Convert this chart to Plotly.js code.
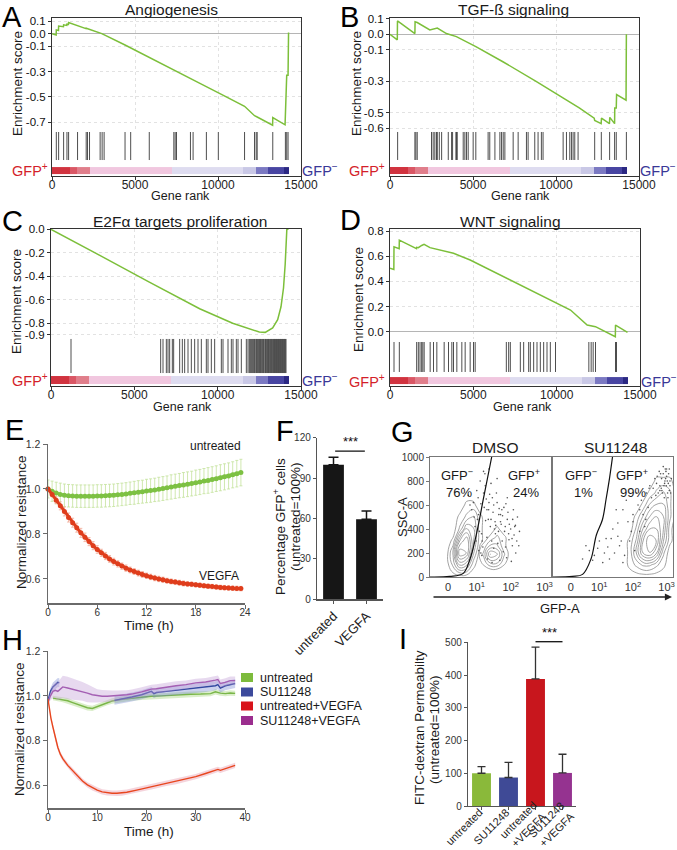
<!DOCTYPE html>
<html><head><meta charset="utf-8">
<script src="https://cdn.plot.ly/plotly-3.0.1.min.js"></script>
<style>html,body{margin:0;padding:0;background:#fff}#chart{width:677px;height:850px}</style>
</head><body><div id="chart"></div>
<script>
// ================= DATA =================
// GSEA common
const gseaTickRanks = [0, 5000, 10000, 15000];
const colorBarEdges = [0, 1100, 1500, 2300, 7200, 11500, 12300, 13000, 14000, 14250];
const colorBarLevel = [8, 7, 6, 5, 4, 3, 2, 1, 0];
// A Angiogenesis
const angioRank = [0,250,260,390,400,690,700,890,900,990,1000,1530,1540,2050,2060,2260,3000,4400,5860,7500,9000,10500,11600,12200,12360,13290,13300,14040,14060,14140,14220,14250];
const angioES   = [0,-0.01,0.03,0.025,0.06,0.055,0.07,0.065,0.075,0.073,0.088,0.062,0.066,0.04,0.043,0.035,0.0,-0.09,-0.19,-0.3,-0.4,-0.5,-0.575,-0.65,-0.66,-0.725,-0.665,-0.722,-0.6,-0.33,-0.33,0.01];
const angioHits = [260,400,700,900,1000,1540,2060,2140,2260,2900,3020,3140,4400,4740,5860,7340,7420,7500,8340,8500,9300,10020,11600,12200,12300,12360,13300,14060,14140,14220];
// B TGF-beta
const tgfRank = [0,440,450,1500,1510,1640,2400,2500,2800,2850,3400,4000,5200,6800,8800,10800,11400,12300,12330,12720,12740,13220,13240,13530,13540,13630,13650,14220,14240];
const tgfES    = [0,-0.035,0.085,0.005,0.08,0.075,0.028,0.03,0.035,0.04,0.005,-0.015,-0.08,-0.175,-0.30,-0.43,-0.47,-0.535,-0.55,-0.57,-0.535,-0.57,-0.53,-0.57,-0.47,-0.47,-0.385,-0.42,0.0];
const tgfHits = [460,1500,1560,1640,2500,2600,2700,2800,2850,2970,3110,3510,3710,3770,3970,4010,4050,4410,4510,4610,4710,5010,5170,5910,6010,6320,6620,6720,6820,6920,7420,7720,8220,8320,8720,8920,9120,9220,10430,10630,10830,10930,11030,11130,11330,12330,12730,13230,13530,13630,14240];
// C E2F targets
const e2fRank = [0,1190,1200,2900,5900,8920,10900,11900,12500,12850,13300,13600,13800,13950,14050,14150,14250];
const e2fES   = [0,-0.09,-0.087,-0.22,-0.45,-0.677,-0.8,-0.85,-0.875,-0.878,-0.84,-0.77,-0.66,-0.5,-0.3,0.0,0.0];
const e2fHits = [1200,6580,6720,6920,7020,7120,7280,7360,7720,7880,8020,8220,8420,8620,8820,9020,9320,9420,9620,9820,10220,10320,10620,10820,10920,11120,11220,11420,11720,11820,11900,11960,12020,12080,12140,12200,12240,12300,12340,12400,12440,12500,12540,12580,12640,12700,12740,12780,12840,12880,12920,12980,13020,13060,13100,13160,13200,13240,13300,13340,13380,13420,13460,13500,13540,13580,13620,13660,13700,13740,13780,13820,13860,13900,13940,13980,14020,14060,14100];
// D WNT
const wntRank = [0,230,240,550,560,1590,1600,1700,1900,1965,2045,2400,3250,3810,4810,6820,8820,10830,11830,12330,13520,13530,14250];
const wntES   = [0.505,0.495,0.675,0.66,0.728,0.66,0.67,0.668,0.685,0.69,0.694,0.668,0.64,0.623,0.57,0.437,0.305,0.172,0.053,0.04,-0.04,0.053,-0.005];
const wntHits = [240,560,1600,1700,1800,1900,1970,2050,2410,2610,2810,3250,3510,3710,3810,4010,4310,4510,4810,5010,5110,6980,7120,7220,7820,8020,8320,8420,8620,8820,9020,9220,9420,9620,9930,11930,12070,12190,12330,13530,13590];

// E impedance (24 h)
const eTime = [0,0.5,1,1.5,2,2.5,3,3.5,4,4.5,5,5.5,6,6.5,7,7.5,8,8.5,9,9.5,10,10.5,11,11.5,12,12.5,13,13.5,14,14.5,15,15.5,16,16.5,17,17.5,18,18.5,19,19.5,20,20.5,21,21.5,22,22.5,23,23.5];
const eUntreated = [1.000,0.99,0.982,0.976,0.972,0.97,0.969,0.968,0.968,0.968,0.968,0.968,0.969,0.969,0.97,0.971,0.972,0.974,0.976,0.978,0.981,0.983,0.986,0.988,0.991,0.993,0.996,0.999,1.002,1.005,1.009,1.012,1.015,1.018,1.021,1.024,1.028,1.031,1.035,1.038,1.042,1.046,1.05,1.054,1.058,1.063,1.068,1.073];
const eUntreatedErr = [0.04,0.045,0.048,0.05,0.05,0.05,0.05,0.05,0.05,0.05,0.05,0.05,0.05,0.05,0.05,0.05,0.05,0.05,0.05,0.05,0.05,0.051,0.051,0.051,0.052,0.052,0.052,0.053,0.053,0.053,0.054,0.054,0.054,0.055,0.055,0.055,0.056,0.056,0.056,0.057,0.057,0.057,0.058,0.058,0.058,0.058,0.059,0.059];
const eVegfa = [1.0,0.975,0.95,0.925,0.9,0.873,0.85,0.828,0.805,0.785,0.766,0.748,0.731,0.716,0.702,0.689,0.677,0.667,0.657,0.648,0.64,0.633,0.626,0.62,0.614,0.609,0.604,0.6,0.596,0.592,0.589,0.586,0.583,0.58,0.578,0.576,0.574,0.572,0.57,0.568,0.566,0.564,0.562,0.561,0.56,0.559,0.558,0.557];
const eVegfaErr = [0.005,0.01,0.015,0.018,0.02,0.02,0.02,0.02,0.02,0.019,0.018,0.018,0.017,0.016,0.016,0.015,0.015,0.014,0.014,0.014,0.013,0.013,0.013,0.013,0.012,0.012,0.012,0.012,0.012,0.011,0.011,0.011,0.011,0.011,0.01,0.01,0.01,0.01,0.01,0.01,0.01,0.01,0.01,0.01,0.01,0.01,0.01,0.01];

// F percentage GFP+
const fCats = ['untreated', 'VEGFA'];
const fVals = [100, 59.5];
const fErr  = [5.4, 6.1];

// G flow cytometry (x in decades)
const gTickPos = [0.15, 1, 2, 3];
const gTickText = ['0', '10<sup>1</sup>', '10<sup>2</sup>', '10<sup>3</sup>'];
const gNegX = [0.1,0.3,0.5,0.7,0.9,1.1,1.3];
const gNegY = [0,100,200,300,400,500,600,700];
const gNegZ = [
 [0,0,0,0,0,0,0],
 [0,2,5,4,1,0,0],
 [0,3,9,8,3,0,0],
 [0,1,6,8,4,1,0],
 [0,0,2,5,4,1,0],
 [0,0,1,2,3,1,0],
 [0,0,0,1,1,0,0],
 [0,0,0,0,0,0,0]];
const gPosX = [1.0,1.2,1.4,1.6,1.8,2.0,2.2];
const gPosY = [50,120,190,260,330,400,470];
const gPosZ = [
 [0,0,0,0,0,0,0],
 [0,1,3,3,1,0,0],
 [0,2,6,5,2,0,0],
 [0,1,3,3,1,0,0],
 [0,0,1,2,1,0,0],
 [0,0,0,1,0,0,0],
 [0,0,0,0,0,0,0]];
const sPosX = [1.7,1.9,2.1,2.3,2.5,2.7,2.9,3.1,3.3];
const sPosY = [0,100,200,300,400,500,600,700,800,900];
const sPosZ = [
 [0,0,0,0,0,0,0,0,0],
 [0,1,2,3,3,2,1,0,0],
 [0,1,4,7,8,6,2,0,0],
 [0,1,3,7,9,8,4,1,0],
 [0,0,2,5,7,7,5,1,0],
 [0,0,1,3,5,6,5,2,0],
 [0,0,0,1,3,4,4,2,0],
 [0,0,0,0,1,2,3,2,0],
 [0,0,0,0,0,1,1,1,0],
 [0,0,0,0,0,0,0,0,0]];
const gLeftDotsX = [0.95,1.05,1.12,1.2,1.28,1.35,1.42,1.5,1.58,1.65,1.72,1.8,1.9,2.0,2.1,0.98,1.08,1.18,1.3,1.4,1.55,1.62,1.75,1.85,1.95,2.05,2.15,1.0,1.1,1.25,1.38,1.48,1.6,1.7,1.82,1.92,1.15,1.32,1.45,1.68,1.88,2.02,0.9,1.22,1.52,1.78,2.12,0.6,0.75,0.85,
  1.02,1.14,1.26,1.36,1.46,1.56,1.66,1.76,1.86,1.96,2.06,2.18,2.26,1.06,1.16,1.34,1.44,1.54,1.64,1.74,1.84,1.94,2.04,2.14,2.24,1.24,1.42,1.6,1.9,2.08,1.12,1.3,1.5,1.7,2.2,0.8,0.92,1.04,1.2,1.36];
const gLeftDotsY = [420,520,610,700,650,560,480,600,700,520,440,580,480,400,350,300,380,250,330,420,360,280,300,250,310,260,200,720,800,760,690,540,620,460,380,540,180,150,120,140,160,130,620,580,400,210,420,740,680,560,
  480,360,470,620,660,430,570,510,610,440,480,300,380,220,300,480,300,460,380,560,420,360,320,430,260,860,780,820,660,560,200,560,240,520,500,600,500,660,880,900];
const gRightDotsX = [2.85,2.9,2.95,3.0,3.05,3.1,2.8,2.88,2.98,3.08,2.7,2.75,2.92,3.02,3.12,2.6,2.65,2.82,2.96,3.04,1.3,1.45,1.6,1.75,1.9,2.05,2.2,2.35,1.4,1.55,1.7,1.85,2.0,2.15,1.25,1.5,1.8,2.1,2.3,2.45,0.5,0.7,0.85,1.0,1.1,
  2.84,2.94,3.0,3.06,3.14,2.78,2.9,2.99,3.1,2.72,2.86,2.97,3.08,2.68,2.8,2.93,3.03,1.55,1.65,1.95,2.25,2.4,2.5,2.55,1.35,1.7,2.0,2.2,2.38,2.48,0.6,0.8,1.15,1.2,0.95];
const gRightDotsY = [820,860,800,840,780,760,760,700,880,720,780,700,760,800,700,740,820,860,900,660,150,200,260,180,300,220,380,420,400,340,120,460,520,600,250,560,640,700,520,580,150,220,180,300,120,
  740,780,900,860,820,880,920,760,800,840,720,820,900,680,720,660,700,450,300,380,640,700,760,660,320,560,460,560,480,740,260,140,200,320,240];
const gateLeftX = [-0.38,0.2,0.6,0.8,0.95,1.08,1.19,1.3,1.44];
const gateLeftY = [0,5,30,150,308,480,644,800,1000];
const gateRightX = [-0.4,0.2,0.5,0.75,0.91,1.09,1.2,1.3,1.39];
const gateRightY = [0,5,22,150,350,477,650,820,1000];

// H impedance (40 h)
const hRedT = [0,0.3,0.6,1,1.5,2,2.5,3,4,5,6,7,8,9,10,11,12,13,14,15,16,18,20,21,22,24,26,28,30,32,34,34.5,35,36,38];
const hRedV = [0.985,0.94,0.9,0.86,0.81,0.77,0.74,0.72,0.69,0.665,0.64,0.62,0.603,0.59,0.58,0.572,0.568,0.566,0.566,0.567,0.57,0.58,0.59,0.595,0.598,0.61,0.618,0.628,0.64,0.654,0.668,0.672,0.668,0.676,0.69];
const hRedE = [0.005,0.008,0.01,0.012,0.012,0.012,0.012,0.012,0.012,0.012,0.012,0.012,0.012,0.012,0.012,0.012,0.012,0.012,0.012,0.012,0.012,0.012,0.012,0.012,0.012,0.012,0.012,0.012,0.012,0.012,0.012,0.012,0.012,0.012,0.012];
const hGreenT = [1,2,3,4,5,6,7,8,9,10,11,12,13,15,17,19,21,23,25,27,29,31,33,34,35,36,37,38];
const hGreenV = [0.99,0.986,0.983,0.978,0.97,0.962,0.954,0.947,0.944,0.952,0.962,0.97,0.977,0.985,0.99,0.994,0.998,1.0,1.003,1.005,1.007,1.008,1.01,1.018,1.012,1.01,1.013,1.011];
const hGreenE = [0.01,0.01,0.012,0.012,0.012,0.012,0.012,0.012,0.012,0.012,0.012,0.012,0.012,0.012,0.012,0.012,0.012,0.012,0.012,0.012,0.012,0.012,0.012,0.012,0.012,0.012,0.012,0.012];
const hBlueT1 = [0,0.5,1,1.5,2,2.3];
const hBlueV1 = [0.98,1.02,1.04,1.05,1.06,1.058];
const hBlueE1 = [0.01,0.015,0.02,0.02,0.02,0.02];
const hBlueT2 = [13.5,15,17,19,20,21,21.5,22,24,26,28,30,32,33,34,34.5,35,36,37,38];
const hBlueV2 = [0.98,0.985,0.995,1.005,1.012,1.02,1.01,1.015,1.02,1.025,1.028,1.033,1.037,1.04,1.045,1.05,1.035,1.045,1.05,1.055];
const hBlueE2 = [0.02,0.02,0.02,0.02,0.02,0.02,0.02,0.02,0.02,0.02,0.02,0.02,0.02,0.02,0.02,0.02,0.02,0.02,0.02,0.02];
const hPurpleT = [0,0.5,1,1.5,2,2.5,3,4,5,6,7,8,9,10,11,12,13,14,15,16,17,18,19,20,21,22,24,26,28,30,32,33,34,34.5,35,36,37,38];
const hPurpleV = [0.97,1.0,1.02,1.025,1.02,1.03,1.04,1.035,1.03,1.025,1.02,1.012,1.005,1.0,0.998,0.998,0.999,1.0,1.002,1.005,1.008,1.012,1.018,1.024,1.03,1.032,1.04,1.045,1.05,1.058,1.062,1.065,1.07,1.073,1.055,1.06,1.068,1.068];
const hPurpleE = [0.01,0.02,0.03,0.035,0.04,0.045,0.05,0.05,0.048,0.045,0.042,0.04,0.035,0.03,0.028,0.026,0.025,0.024,0.022,0.02,0.02,0.02,0.02,0.02,0.02,0.02,0.02,0.02,0.018,0.018,0.018,0.018,0.018,0.018,0.018,0.018,0.018,0.018];
const hLegend = ['untreated', 'SU11248', 'untreated+VEGFA', 'SU11248+VEGFA'];

// I FITC-dextran permeability
const iCats = ['untreated', 'SU11248', 'untreated<br>+VEGFA', 'SU11248<br>+VEGFA'];
const iVals = [100, 87, 388, 101];
const iErr  = [20, 46, 97, 57];

// ================= BUILD =================
const W = 677, H = 850;
const FONT = 'Liberation Sans, Arial, Helvetica, sans-serif';
const PX = x => x / W, PY = y => 1 - y / H;
const dx = (a, b) => [a / W, b / W];
const dy = (top, bot) => [1 - bot / H, 1 - top / H];
const sfx = n => (n === 1 ? '' : String(n));
const zeros = a => a.map(() => 0);

const traces = [];
const layout = {
  width: W, height: H, margin: {l: 0, r: 0, t: 0, b: 0},
  paper_bgcolor: '#fff', plot_bgcolor: '#fff', showlegend: false,
  font: {family: FONT, color: '#222', size: 11},
  annotations: [], shapes: []
};
function ann(text, x, y, size, opt) {
  layout.annotations.push(Object.assign({
    text: text, x: PX(x), y: PY(y), xref: 'paper', yref: 'paper', showarrow: false,
    xanchor: 'center', yanchor: 'middle', font: {family: FONT, size: size, color: '#1a1a1a'}
  }, opt || {}));
}

// ---- GSEA panels ----
const cbColors = ['#2b2883', '#4845a2', '#7b79c2', '#c9c8e6', '#dedcf0', '#f1c7df', '#e07e8b', '#da5765', '#d1333f'];
function gsea(n, c) {
  const xh = 'x' + sfx(n), yh = 'y' + sfx(n), xe = 'x' + sfx(n + 1), ye = 'y' + sfx(n + 1);
  traces.push({type: 'heatmap', x: colorBarEdges, y: c.barY, z: [colorBarLevel], xaxis: xh, yaxis: yh,
    colorscale: cbColors.map((col, i) => [i / (cbColors.length - 1), col]), zmin: 0, zmax: 8,
    showscale: false, hoverinfo: 'skip'});
  const hx = [], hy = [];
  c.hits.forEach(h => { hx.push(h, h, null); hy.push(c.hitY[0], c.hitY[1], null); });
  traces.push({type: 'scatter', mode: 'lines', x: hx, y: hy, xaxis: xh, yaxis: yh,
    line: {color: '#3a3a3a', width: 0.9}, hoverinfo: 'skip'});
  traces.push({type: 'scatter', mode: 'lines', x: c.rank, y: c.es, xaxis: xe, yaxis: ye,
    line: {color: '#7cbf3a', width: 1.5}, cliponaxis: false, hoverinfo: 'skip'});
  layout['xaxis' + sfx(n)] = {domain: dx(c.l, c.r), anchor: yh, range: [0, 15000],
    tickvals: gseaTickRanks, ticktext: gseaTickRanks.map(String), ticks: 'outside', ticklen: 3,
    tickcolor: '#333', showline: true, linecolor: '#333', linewidth: 1, showgrid: false, zeroline: false,
    ticklabelstandoff: -5, tickfont: {size: 12, color: '#222'}};
  layout['yaxis' + sfx(n)] = {domain: dy(c.esBot, c.bot), anchor: xh, range: [0, 1],
    showline: true, mirror: true, linecolor: '#333', ticks: '', showticklabels: false,
    showgrid: false, zeroline: false};
  layout['xaxis' + sfx(n + 1)] = {domain: dx(c.l, c.r), anchor: ye, range: [0, 15000], side: 'top',
    showline: true, linecolor: '#333', ticks: '', showticklabels: false, showgrid: true,
    gridcolor: '#e2e2e2', griddash: 'dot', tickvals: [5000, 10000], zeroline: false};
  layout['yaxis' + sfx(n + 1)] = {domain: dy(c.top, c.esBot), anchor: xe, range: c.range,
    tickvals: c.ticks, ticktext: c.ticks.map(v => (v < 0 ? '-' : '') + Math.abs(v).toFixed(1)), ticks: 'outside', ticklen: 3,
    tickcolor: '#333', showline: true, mirror: true, linecolor: '#333', showgrid: true,
    gridcolor: '#e2e2e2', griddash: 'dot', zeroline: true, zerolinecolor: '#b5b5b5', zerolinewidth: 1,
    tickfont: {size: 11.5, color: '#111'}};
}
gsea(1, {l: 52, r: 301, top: 18, esBot: 129, bot: 176, range: [-0.755, 0.124],
  ticks: [0.1, 0, -0.1, -0.3, -0.5, -0.7], rank: angioRank, es: angioES, hits: angioHits,
  hitY: [0.34, 0.936], barY: [0.043, 0.19]});
gsea(3, {l: 390, r: 639, top: 18, esBot: 131, bot: 176, range: [-0.617, 0.104],
  ticks: [0.1, 0, -0.1, -0.3, -0.5, -0.6], rank: tgfRank, es: tgfES, hits: tgfHits,
  hitY: [0.356, 0.978], barY: [0.044, 0.2]});
gsea(5, {l: 51, r: 301, top: 229, esBot: 338, bot: 386, range: [-0.926, 0.003],
  ticks: [0, -0.2, -0.4, -0.6, -0.8, -0.9], rank: e2fRank, es: e2fES, hits: e2fHits,
  hitY: [0.27, 0.98], barY: [0.042, 0.208]});
gsea(7, {l: 390, r: 640, top: 229, esBot: 339, bot: 386, range: [-0.058, 0.816],
  ticks: [0.8, 0.6, 0.4, 0.2, 0], rank: wntRank, es: wntES, hits: wntHits,
  hitY: [0.298, 0.936], barY: [0.043, 0.19]});

// ---- E ----
traces.push({type: 'scatter', mode: 'markers', x: eTime, y: eUntreated, xaxis: 'x9', yaxis: 'y9',
  marker: {color: 'rgba(0,0,0,0)'}, cliponaxis: false, hoverinfo: 'skip',
  error_y: {type: 'data', array: eUntreatedErr, color: '#c4e29c', thickness: 0.8, width: 1.5}});
traces.push({type: 'scatter', mode: 'lines+markers', x: eTime, y: eUntreated, xaxis: 'x9', yaxis: 'y9',
  marker: {color: '#7dc143', size: 5}, line: {color: '#7dc143', width: 3}, cliponaxis: false, hoverinfo: 'skip'});
traces.push({type: 'scatter', mode: 'markers', x: eTime, y: eVegfa, xaxis: 'x9', yaxis: 'y9',
  marker: {color: 'rgba(0,0,0,0)'}, cliponaxis: false, hoverinfo: 'skip',
  error_y: {type: 'data', array: eVegfaErr, color: '#f3a995', thickness: 0.8, width: 1.5}});
traces.push({type: 'scatter', mode: 'lines+markers', x: eTime, y: eVegfa, xaxis: 'x9', yaxis: 'y9',
  marker: {color: '#df3d1c', size: 5}, line: {color: '#df3d1c', width: 3}, cliponaxis: false, hoverinfo: 'skip'});
const lineAx = {showline: true, linecolor: '#6a6a6a', linewidth: 1.5, ticks: 'outside', ticklen: 4,
  tickcolor: '#6a6a6a', showgrid: false, zeroline: false, tickfont: {size: 10.5, color: '#333'}};
layout.xaxis9 = Object.assign({}, lineAx, {domain: dx(48, 245), anchor: 'y9', range: [0, 24], tickvals: [0, 6, 12, 18, 24],
  ticklabelstandoff: -5, tickfont: {size: 10, color: '#333'}});
layout.yaxis9 = Object.assign({}, lineAx, {domain: dy(444, 603), anchor: 'x9', range: [0.493, 1.2],
  tickvals: [0.6, 0.8, 1.0, 1.2], ticktext: ['0.6', '0.8', '1.0', '1.2']});

// ---- F ----
traces.push({type: 'bar', x: fCats, y: fVals, xaxis: 'x10', yaxis: 'y10', width: 0.63,
  marker: {color: '#161616'},
  error_y: {type: 'data', symmetric: false, array: fErr, arrayminus: zeros(fErr), color: '#161616', thickness: 1.5, width: 5}});
layout.xaxis10 = {domain: dx(317, 383), anchor: 'y10', type: 'category', tickangle: -45, showline: true,
  linecolor: '#555', linewidth: 1.2, ticks: 'outside', ticklen: 3, tickcolor: '#555', tickfont: {size: 13, color: '#222'}};
layout.yaxis10 = {domain: dy(437.7, 599.3), anchor: 'x10', range: [0, 120], tickvals: [0, 30, 60, 90, 120],
  showline: true, linecolor: '#555', linewidth: 1.2, ticks: 'outside', ticklen: 3, tickcolor: '#555',
  showgrid: false, zeroline: false, tickfont: {size: 10, color: '#333'}};
layout.shapes.push({type: 'line', xref: 'x10', yref: 'y10', x0: 0.05, x1: 0.95, y0: 110, y1: 110, line: {color: '#111', width: 1.3}});
layout.annotations.push({text: '***', xref: 'x10', yref: 'y10', x: 0.5, y: 110, yanchor: 'bottom', showarrow: false, font: {family: FONT, size: 13, color: '#111'}});

// ---- G ----
function flow(nx, pops, dotsX, dotsY, gx, gy) {
  const xa = 'x' + nx, ya = 'y' + nx;
  const cont = (x, y, z) => ({type: 'contour', x: x, y: y, z: z, xaxis: xa, yaxis: ya, showscale: false,
    contours: {coloring: 'lines', start: 0.7, end: 9.5, size: 1.05},
    colorscale: [[0, '#8c8c8c'], [1, '#8c8c8c']], line: {width: 0.8, smoothing: 1.3}, hoverinfo: 'skip'});
  pops.forEach(p => traces.push(cont(p[0], p[1], p[2])));
  traces.push({type: 'scatter', mode: 'markers', x: dotsX, y: dotsY, xaxis: xa, yaxis: ya,
    marker: {color: '#555', size: 1.6}, hoverinfo: 'skip'});
  traces.push({type: 'scatter', mode: 'lines', x: gx, y: gy, xaxis: xa, yaxis: ya,
    line: {color: '#111', width: 1.2, shape: 'spline'}, hoverinfo: 'skip'});
}
flow(11, [[gNegX, gNegY, gNegZ], [gPosX, gPosY, gPosZ]], gLeftDotsX, gLeftDotsY, gateLeftX, gateLeftY);
flow(12, [[sPosX, sPosY, sPosZ]], gRightDotsX, gRightDotsY, gateRightX, gateRightY);
const flowX = {range: [-0.38, 3.19], tickvals: gTickPos, ticktext: gTickText, showline: true, mirror: true,
  linecolor: '#777', linewidth: 1, ticks: '', showgrid: false, zeroline: false, tickfont: {size: 11, color: '#333'}};
layout.xaxis11 = Object.assign({}, flowX, {domain: dx(430, 551), anchor: 'y11'});
layout.xaxis12 = Object.assign({}, flowX, {domain: dx(553, 673), anchor: 'y12'});
layout.yaxis11 = {domain: dy(457, 577), anchor: 'x11', range: [0, 1000], tickvals: [0, 200, 400, 600, 800, 1000],
  showline: true, mirror: true, linecolor: '#777', ticks: 'outside', ticklen: 3, tickcolor: '#777',
  showgrid: false, zeroline: false, tickfont: {size: 10, color: '#333'}};
layout.yaxis12 = {domain: dy(457, 577), anchor: 'x12', range: [0, 1000], showline: true, mirror: true,
  linecolor: '#777', ticks: '', showticklabels: false, showgrid: false, zeroline: false};
layout.annotations.push({x: PX(672), y: PY(597), xref: 'paper', yref: 'paper', ax: -240, ay: 0, text: '',
  showarrow: true, arrowhead: 2, arrowsize: 1.1, arrowwidth: 1.3, arrowcolor: '#222'});

// ---- H ----
function band(t, v, e, fill) {
  const up = v.map((y, i) => y + e[i]), lo = v.map((y, i) => y - e[i]);
  traces.push({type: 'scatter', mode: 'lines', x: t.concat(t.slice().reverse()), y: up.concat(lo.reverse()),
    fill: 'toself', fillcolor: fill, line: {width: 0}, xaxis: 'x13', yaxis: 'y13', hoverinfo: 'skip'});
}
function hline(t, v, col) {
  traces.push({type: 'scatter', mode: 'lines', x: t, y: v, xaxis: 'x13', yaxis: 'y13', line: {color: col, width: 1.4}, hoverinfo: 'skip'});
}
band(hGreenT, hGreenV, hGreenE, 'rgba(150,205,100,0.35)'); hline(hGreenT, hGreenV, '#7ab648');
band(hBlueT1, hBlueV1, hBlueE1, 'rgba(110,125,205,0.35)'); hline(hBlueT1, hBlueV1, '#3347a0');
band(hBlueT2, hBlueV2, hBlueE2, 'rgba(110,125,205,0.35)'); hline(hBlueT2, hBlueV2, '#3347a0');
band(hPurpleT, hPurpleV, hPurpleE, 'rgba(195,160,215,0.4)'); hline(hPurpleT, hPurpleV, '#a45fb3');
band(hRedT, hRedV, hRedE, 'rgba(235,170,185,0.5)'); hline(hRedT, hRedV, '#e8461e');
layout.xaxis13 = Object.assign({}, lineAx, {domain: dx(48, 245), anchor: 'y13', range: [0, 40], tickvals: [0, 10, 20, 30, 40],
  ticklabelstandoff: -5, tickfont: {size: 10, color: '#333'}});
layout.yaxis13 = Object.assign({}, lineAx, {domain: dy(651, 808), anchor: 'x13', range: [0.5, 1.2],
  tickvals: [0.6, 0.8, 1.0, 1.2], ticktext: ['0.6', '0.8', '1.0', '1.2']});
const legCols = ['#7dbb3c', '#3c4a9c', '#d8131b', '#9b2d8e'];
const legRows = [677.5, 692, 706, 720.5];
hLegend.forEach((name, i) => {
  layout.shapes.push({type: 'rect', xref: 'paper', yref: 'paper', x0: PX(241), x1: PX(253),
    y0: PY(legRows[i] + 4.5), y1: PY(legRows[i] - 4.5), fillcolor: legCols[i], line: {width: 0}});
  ann(name, 258, legRows[i], 12.5, {xanchor: 'left'});
});

// ---- I ----
traces.push({type: 'bar', x: iCats, y: iVals, xaxis: 'x14', yaxis: 'y14', width: 0.7,
  marker: {color: ['#8ab93a', '#3f4a96', '#c8161d', '#953390']},
  error_y: {type: 'data', symmetric: false, array: iErr, arrayminus: zeros(iErr), color: '#333', thickness: 1.3, width: 4}});
layout.xaxis14 = {domain: dx(468, 576), anchor: 'y14', type: 'category', showline: true,
  linecolor: '#555', linewidth: 1.2, ticks: 'outside', ticklen: 3, tickcolor: '#555', showticklabels: false};
layout.yaxis14 = {domain: dy(642.3, 806), anchor: 'x14', range: [0, 500], tickvals: [0, 100, 200, 300, 400, 500],
  showline: true, linecolor: '#555', linewidth: 1.2, ticks: 'outside', ticklen: 3, tickcolor: '#555',
  showgrid: false, zeroline: false, tickfont: {size: 10, color: '#333'}};
layout.shapes.push({type: 'line', xref: 'x14', yref: 'paper', x0: 2, x1: 3, y0: PY(641.7), y1: PY(641.7), line: {color: '#111', width: 1.3}});
layout.annotations.push({text: '***', xref: 'x14', yref: 'paper', x: 2.5, y: PY(641.7), yanchor: 'bottom', showarrow: false, font: {family: FONT, size: 13, color: '#111'}});
// rotated category labels placed under each bar
const iLabelPos = [[464, 827], [491, 827], [523, 825], [551, 825]];
iCats.forEach((c, i) => ann(c, iLabelPos[i][0], iLabelPos[i][1], 11, {textangle: -45, font: {family: FONT, size: 11, color: '#222'}}));

// ---- Text annotations ----
[['A', 12, 17], ['B', 349, 17], ['C', 12, 221], ['D', 350, 220], ['E', 14, 430], ['F', 285, 431],
 ['G', 402, 432], ['H', 12, 640], ['I', 403, 639]].forEach(l => ann(l[0], l[1], l[2], 29, {font: {family: FONT, size: 29, color: '#000'}}));
ann('Angiogenesis', 171, 9, 15.5);
ann('TGF-ß signaling', 513, 9, 15.5);
ann('E2Fα targets proliferation', 180, 221, 15.5);
ann('WNT signaling', 511, 221, 15.5);
[[17, 84], [356, 84], [17, 302], [358, 300]].forEach(p => ann('Enrichment score', p[0], p[1], 13.5, {textangle: -90}));
[[180, 196], [520, 196], [183, 407], [522, 407]].forEach(p => ann('Gene rank', p[0], p[1], 12.5));
const red = '#d41f2a', blue = '#3a3797';
[[29.5, 170, 320, 170], [367, 170, 658, 170], [29.5, 380, 320, 380], [367, 381, 659, 381]].forEach(p => {
  ann('GFP<sup>+</sup>', p[0], p[1], 14.5, {font: {family: FONT, size: 14.5, color: red}});
  ann('GFP<sup>−</sup>', p[2], p[3], 14.5, {font: {family: FONT, size: 14.5, color: blue}});
});
ann('untreated', 215, 446, 12);
ann('VEGFA', 219, 576, 12);
ann('Normalized resistance', 21, 522, 13.5, {textangle: -90});
ann('Time (h)', 149, 625, 13.5);
ann('Percentage GFP<sup>+</sup> cells', 279, 527, 13.5, {textangle: -90});
ann('(untreated=100%)', 295, 517, 13.5, {textangle: -90});
ann('DMSO', 496, 447, 15.5);
ann('SU11248', 615, 447, 15.5);
ann('GFP<sup>−</sup>', 457, 475, 13); ann('76%', 459, 492, 13);
ann('GFP<sup>+</sup>', 524, 475, 13); ann('24%', 526, 492, 13);
ann('GFP<sup>−</sup>', 581, 475, 13); ann('1%', 583, 492, 13);
ann('GFP<sup>+</sup>', 632, 475, 13); ann('99%', 633, 492, 13);
ann('SSC-A', 402, 517, 13, {textangle: -90});
ann('GFP-A', 560, 608, 13);
ann('Normalized resistance', 19, 729, 13.5, {textangle: -90});
ann('Time (h)', 149, 831, 13.5);
ann('FITC-dextran Permeabilty', 419, 728, 13.5, {textangle: -90});
ann('(untreated=100%)', 434, 730, 13.5, {textangle: -90});

Plotly.newPlot('chart', traces, layout, {displayModeBar: false, staticPlot: true});
</script></body></html>
